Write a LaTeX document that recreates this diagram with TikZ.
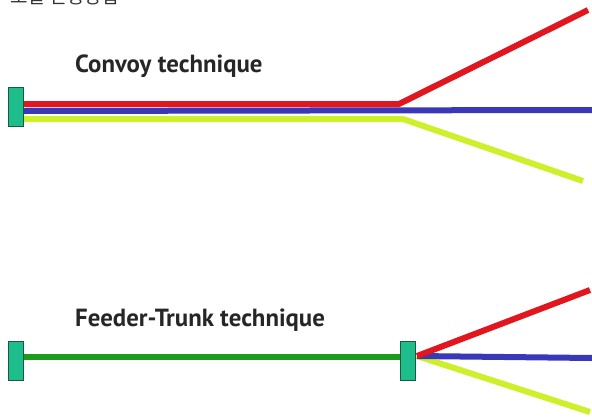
\documentclass[tikz,border=0pt]{standalone}
\usepackage{fontspec}
\newfontfamily\labelfont{PT Sans}
\newfontfamily\krfont{Noto Sans CJK KR}
\definecolor{cred}{HTML}{E2161E}
\definecolor{cblue}{HTML}{3838B8}
\definecolor{cyel}{HTML}{CDF02A}
\definecolor{cgreen}{HTML}{1E9A1E}
\definecolor{boxfill}{HTML}{1DBE8C}
\definecolor{boxline}{HTML}{1B5A3C}
\tikzset{
  reel/.style={draw=boxline, fill=boxfill, line width=1.6pt, minimum width=15pt, minimum height=39pt, inner sep=0pt},
  cable/.style={line width=6pt, line cap=butt, line join=round},
  title/.style={font=\labelfont\bfseries\fontsize{24.8}{28}\selectfont, anchor=base west, inner sep=0pt, text=black!85},
}
\begin{document}
\begin{tikzpicture}[x=1pt,y=-1pt]
\useasboundingbox (0,0) rectangle (592,418);

% heading, cut by the upper page edge
\node[font=\krfont\fontsize{19}{22}\selectfont, anchor=base west, inner sep=0pt, text=black!80] (head) at (10,3) {포설 진행방법};

% ---- convoy technique ----
\node[title] (t1) at (75,72) {Convoy technique};
\coordinate (rEnd1) at (588,10);
\coordinate (bEnd1) at (592,110);
\coordinate (yEnd1) at (583,181);
\draw[cable, cyel] (24,119) -- (403,119) -- (yEnd1);
\draw[cable, cblue] (24,111) -- (bEnd1);
\draw[cable, cred] (24,104) -- (399,104) -- (rEnd1);
\node[reel] (r1) at (16,107) {};

% ---- feeder-trunk technique ----
\node[title] (t2) at (75,326) {Feeder-Trunk technique};
\node[reel] (r2) at (16,361) {};
\node[reel] (r3) at (408,361) {};
\coordinate (rEnd2) at (590,290);
\coordinate (bEnd2) at (592,358);
\coordinate (yEnd2) at (590,412);
\draw[cable, cgreen] (r2.east |- 0,357) -- (r3.west |- 0,357);
\coordinate (hub) at (417,356);
\draw[cable, cyel] (hub) -- (yEnd2);
\draw[cable, cblue] (hub) -- (bEnd2);
\draw[cable, cred] (hub) -- (rEnd2);
\end{tikzpicture}
\end{document}
